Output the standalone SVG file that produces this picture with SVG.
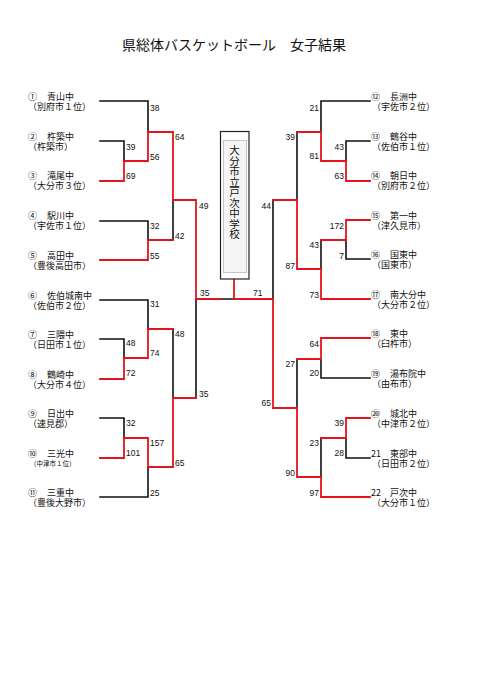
<svg xmlns="http://www.w3.org/2000/svg" width="481" height="680" viewBox="0 0 481 680">
<style>
.bk{fill:none;stroke:#111;stroke-width:1.6;stroke-linecap:square}
.rd{fill:none;stroke:#e5141c;stroke-width:1.8;stroke-linecap:square}
.t{font-family:"Noto Sans CJK JP","Noto Sans CJK SC",sans-serif;font-size:9px;fill:#111}
.s{font-family:"Liberation Sans",Arial,sans-serif;font-size:8.5px;fill:#111}
.r{text-anchor:end}
.title{font-family:"Noto Sans CJK JP",sans-serif;font-size:14px;fill:#111}
</style>
<rect width="481" height="680" fill="#fff"/>
<text class="title" x="234" y="50" text-anchor="middle">県総体バスケットボール　女子結果</text>

<g id="connectors">
<!-- black (losing) segments -->
<path class="bk" d="M100,101 H148 V132 M100,141 H124 V161 M100,221 H148 V240 M173,200 V240 M196,299 V398 M100,300 H148 V329 M100,339 H124 V358 M173,329 V398 M100,418 H124 V438 M100,497 H148 V467 M220,299 H234"/>
<path class="bk" d="M370,101 H321 V132 M297,132 V200 M370,141 H346 V161 M370,259 H346 V240 M321,240 V269 M273,200 V299 M370,378 H321 V359 M297,359 V408 M370,458 H346 V438 M321,438 V477"/>
<!-- red (winning) segments -->
<path class="rd" d="M100,181 H124 V161 H148 V132 H173 V200 H196 V299 H220"/>
<path class="rd" d="M100,260 H148 V240 H173"/>
<path class="rd" d="M100,379 H124 V358 H148 V329 H173"/>
<path class="rd" d="M100,458 H124 V438 H148 V467 H173 V398 H196"/>
<path class="rd" d="M234,279 V299 H273 V408 H297 V477 H321 V497 H370"/>
<path class="rd" d="M370,181 H346 V161 H321 V132 H297"/>
<path class="rd" d="M370,299 H321 V269 H297 V200 H273"/>
<path class="rd" d="M370,220 H346 V240 H321"/>
<path class="rd" d="M370,338 H321 V359 H297"/>
<path class="rd" d="M370,418 H346 V438 H321"/>
</g>

<g id="scores">
<text class="s" x="150" y="111">38</text>
<text class="s" x="126" y="150">39</text>
<text class="s" x="150" y="160">56</text>
<text class="s" x="126" y="179">69</text>
<text class="s" x="175" y="140">64</text>
<text class="s" x="150" y="229">32</text>
<text class="s" x="150" y="259">55</text>
<text class="s" x="175" y="239">42</text>
<text class="s" x="199" y="209">49</text>
<text class="s" x="150" y="307">31</text>
<text class="s" x="126" y="346">48</text>
<text class="s" x="126" y="376">72</text>
<text class="s" x="150" y="356">74</text>
<text class="s" x="175" y="337">48</text>
<text class="s" x="126" y="426">32</text>
<text class="s" x="126" y="456">101</text>
<text class="s" x="150" y="446">157</text>
<text class="s" x="150" y="496">25</text>
<text class="s" x="175" y="466">65</text>
<text class="s" x="199" y="397">35</text>
<text class="s" x="200" y="296">35</text>
<text class="s" x="253" y="296">71</text>
<text class="s r" x="319" y="111">21</text>
<text class="s r" x="344" y="150">43</text>
<text class="s r" x="344" y="179">63</text>
<text class="s r" x="319" y="159">81</text>
<text class="s r" x="295" y="140">39</text>
<text class="s r" x="344" y="229">172</text>
<text class="s r" x="344" y="259">7</text>
<text class="s r" x="319" y="248">43</text>
<text class="s r" x="319" y="298">73</text>
<text class="s r" x="295" y="269">87</text>
<text class="s r" x="271" y="209">44</text>
<text class="s r" x="319" y="347">64</text>
<text class="s r" x="319" y="376">20</text>
<text class="s r" x="295" y="367">27</text>
<text class="s r" x="344" y="426">39</text>
<text class="s r" x="344" y="456">28</text>
<text class="s r" x="319" y="446">23</text>
<text class="s r" x="319" y="496">97</text>
<text class="s r" x="295" y="476">90</text>
<text class="s r" x="271" y="406">65</text>
</g>

<g id="host">
<rect x="220.5" y="131.5" width="28.5" height="147.5" fill="#fff" stroke="#222" stroke-width="1.2"/>
<rect x="223.5" y="140.5" width="23" height="132" fill="#f5f5f5" stroke="#c4c4c4" stroke-width="1"/>
<text class="t" x="234.5" y="145" style="writing-mode:vertical-rl;font-size:10.5px">大分市立戸次中学校</text>
</g>

<g id="team1"><text class="t" x="28" y="100">①</text><text class="t" x="47" y="100">青山中</text><text class="t" x="28" y="110">（別府市１位）</text></g>
<g id="team2"><text class="t" x="28" y="140">②</text><text class="t" x="47" y="140">杵築中</text><text class="t" x="28" y="150">（杵築市）</text></g>
<g id="team3"><text class="t" x="28" y="179">③</text><text class="t" x="47" y="179">滝尾中</text><text class="t" x="28" y="189">（大分市３位）</text></g>
<g id="team4"><text class="t" x="28" y="219">④</text><text class="t" x="47" y="219">駅川中</text><text class="t" x="28" y="229">（宇佐市１位）</text></g>
<g id="team5"><text class="t" x="28" y="259">⑤</text><text class="t" x="47" y="259">高田中</text><text class="t" x="28" y="269">（豊後高田市）</text></g>
<g id="team6"><text class="t" x="28" y="299">⑥</text><text class="t" x="47" y="299">佐伯城南中</text><text class="t" x="28" y="309">（佐伯市２位）</text></g>
<g id="team7"><text class="t" x="28" y="338">⑦</text><text class="t" x="47" y="338">三隈中</text><text class="t" x="28" y="348">（日田市１位）</text></g>
<g id="team8"><text class="t" x="28" y="378">⑧</text><text class="t" x="47" y="378">鶴崎中</text><text class="t" x="28" y="388">（大分市４位）</text></g>
<g id="team9"><text class="t" x="28" y="417">⑨</text><text class="t" x="47" y="417">日出中</text><text class="t" x="28" y="427">（速見郡）</text></g>
<g id="team10"><text class="t" x="28" y="457">⑩</text><text class="t" x="47" y="457">三光中</text><text class="t" x="30" y="466" style="font-size:6.5px">（中津市１位）</text></g>
<g id="team11"><text class="t" x="28" y="496">⑪</text><text class="t" x="47" y="496">三重中</text><text class="t" x="28" y="506">（豊後大野市）</text></g>

<g id="team12"><text class="t" x="371" y="100">⑫</text><text class="t" x="390" y="100">長洲中</text><text class="t" x="372" y="110">（宇佐市２位）</text></g>
<g id="team13"><text class="t" x="371" y="140">⑬</text><text class="t" x="390" y="140">鶴谷中</text><text class="t" x="372" y="150">（佐伯市１位）</text></g>
<g id="team14"><text class="t" x="371" y="179">⑭</text><text class="t" x="390" y="179">朝日中</text><text class="t" x="372" y="189">（別府市２位）</text></g>
<g id="team15"><text class="t" x="371" y="219">⑮</text><text class="t" x="390" y="219">第一中</text><text class="t" x="372" y="229">（津久見市）</text></g>
<g id="team16"><text class="t" x="371" y="258">⑯</text><text class="t" x="390" y="258">国東中</text><text class="t" x="372" y="268">（国東市）</text></g>
<g id="team17"><text class="t" x="371" y="298">⑰</text><text class="t" x="390" y="298">南大分中</text><text class="t" x="372" y="308">（大分市２位）</text></g>
<g id="team18"><text class="t" x="371" y="337">⑱</text><text class="t" x="390" y="337">東中</text><text class="t" x="372" y="347">（臼杵市）</text></g>
<g id="team19"><text class="t" x="371" y="377">⑲</text><text class="t" x="390" y="377">湯布院中</text><text class="t" x="372" y="387">（由布市）</text></g>
<g id="team20"><text class="t" x="371" y="417">⑳</text><text class="t" x="390" y="417">城北中</text><text class="t" x="372" y="427">（中津市２位）</text></g>
<g id="team21"><text class="t" x="371" y="457">21</text><text class="t" x="390" y="457">東部中</text><text class="t" x="372" y="467">（日田市２位）</text></g>
<g id="team22"><text class="t" x="371" y="496">22</text><text class="t" x="390" y="496">戸次中</text><text class="t" x="372" y="506">（大分市１位）</text></g>
</svg>
